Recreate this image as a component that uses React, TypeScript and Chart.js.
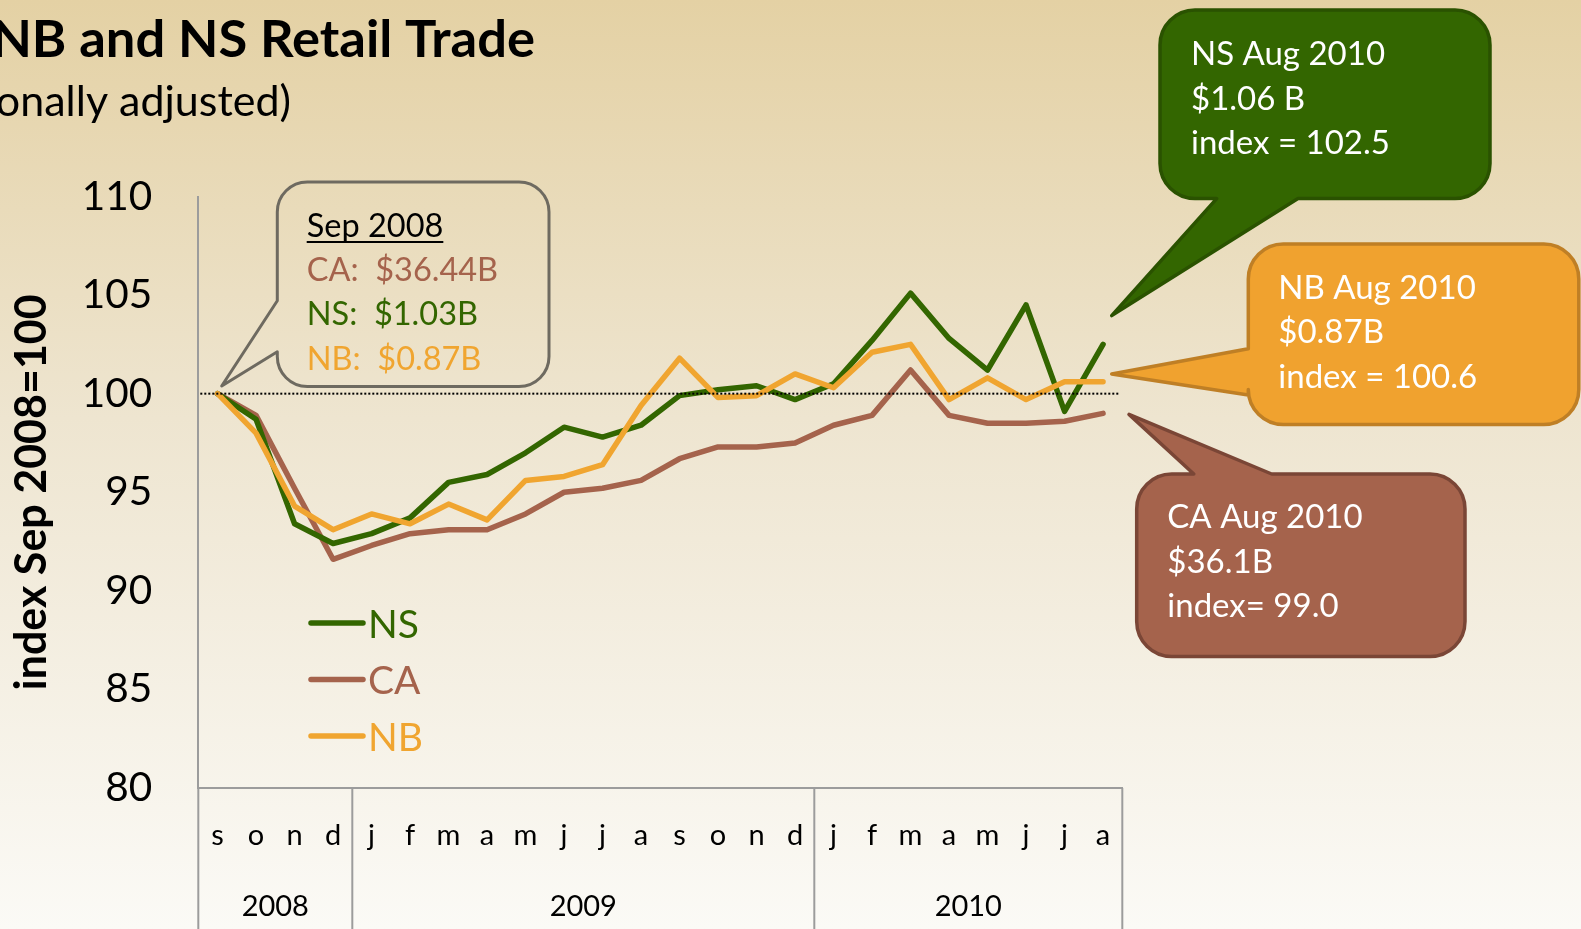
import React, { useEffect, useRef } from 'react';
import { Chart, registerables } from 'chart.js';

Chart.register(...registerables);

// ---------- data ----------
const monthLabels = ['s', 'o', 'n', 'd', 'j', 'f', 'm', 'a', 'm', 'j', 'j', 'a', 's', 'o', 'n', 'd', 'j', 'f', 'm', 'a', 'm', 'j', 'j', 'a'];
const yearLabels = ['2008', '2009', '2010'];
const yearMonthCounts = [4, 12, 8];

const nsValues = [100, 98.7, 93.4, 92.4, 92.9, 93.7, 95.5, 95.9, 97.0, 98.3, 97.8, 98.4, 99.9, 100.2, 100.4, 99.7, 100.5, 102.7, 105.1, 102.8, 101.2, 104.5, 99.1, 102.5];
const caValues = [100, 98.9, 95.2, 91.6, 92.3, 92.9, 93.1, 93.1, 93.9, 95.0, 95.2, 95.6, 96.7, 97.3, 97.3, 97.5, 98.4, 98.9, 101.2, 98.9, 98.5, 98.5, 98.6, 99.0];
const nbValues = [100, 98.0, 94.3, 93.1, 93.9, 93.4, 94.4, 93.6, 95.6, 95.8, 96.4, 99.4, 101.8, 99.8, 99.9, 101.0, 100.3, 102.1, 102.5, 99.7, 100.8, 99.7, 100.6, 100.6];

const yMin = 80;
const yMax = 110;
const yStep = 5;
const baseValue = 100;

const titleText = 'NB and NS Retail Trade';
const subtitleText = '(seasonally adjusted)';
const yAxisTitle = 'index Sep 2008=100';

const startNoteLines = ['Sep 2008', 'CA:  $36.44B', 'NS:  $1.03B', 'NB:  $0.87B'];
const nsNoteLines = ['NS Aug 2010', '$1.06 B', 'index = 102.5'];
const nbNoteLines = ['NB Aug 2010', '$0.87B', 'index = 100.6'];
const caNoteLines = ['CA Aug 2010', '$36.1B', 'index= 99.0'];

// ---------- style ----------
const W = 1581;
const H = 929;
const NS_COLOR = '#336600';
const CA_COLOR = '#a5634c';
const NB_COLOR = '#f0a530';
const AXIS_COLOR = '#9c9c9c';
const FONT = 'Lato, "Open Sans", sans-serif';

type Tail = { side: 'top' | 'bottom' | 'left'; a: number; b: number; tx: number; ty: number };

function calloutPath(ctx: CanvasRenderingContext2D, x: number, y: number, w: number, h: number, r: number, t: Tail) {
  ctx.beginPath();
  ctx.moveTo(x + r, y);
  if (t.side === 'top') { ctx.lineTo(t.a, y); ctx.lineTo(t.tx, t.ty); ctx.lineTo(t.b, y); }
  ctx.lineTo(x + w - r, y);
  ctx.arcTo(x + w, y, x + w, y + r, r);
  ctx.lineTo(x + w, y + h - r);
  ctx.arcTo(x + w, y + h, x + w - r, y + h, r);
  if (t.side === 'bottom') { ctx.lineTo(t.b, y + h); ctx.lineTo(t.tx, t.ty); ctx.lineTo(t.a, y + h); }
  ctx.lineTo(x + r, y + h);
  ctx.arcTo(x, y + h, x, y + h - r, r);
  if (t.side === 'left') { ctx.lineTo(x, t.b); ctx.lineTo(t.tx, t.ty); ctx.lineTo(x, t.a); }
  ctx.lineTo(x, y + r);
  ctx.arcTo(x, y, x + r, y, r);
  ctx.closePath();
}

const decorPlugin = {
  id: 'decor',
  beforeDraw(chart: any) {
    const ctx: CanvasRenderingContext2D = chart.ctx;
    ctx.save();
    const g = ctx.createLinearGradient(0, 0, 0, H);
    g.addColorStop(0, '#e4d1a4');
    g.addColorStop(0.45, '#eee5d0');
    g.addColorStop(1, '#fbfaf6');
    ctx.fillStyle = g;
    ctx.fillRect(0, 0, W, H);

    ctx.fillStyle = '#000';
    ctx.textBaseline = 'alphabetic';
    ctx.textAlign = 'right';
    ctx.font = `bold 52.5px ${FONT}`;
    ctx.fillText(titleText, 535, 57);
    ctx.font = `43px ${FONT}`;
    ctx.fillText(subtitleText, 291, 116);
    ctx.restore();
  },
  afterDraw(chart: any) {
    const ctx: CanvasRenderingContext2D = chart.ctx;
    const xs = chart.scales.x;
    const ys = chart.scales.y;
    const area = chart.chartArea;
    ctx.save();

    // dotted baseline at 100
    const yb = ys.getPixelForValue(baseValue);
    ctx.strokeStyle = '#000';
    ctx.lineWidth = 2;
    ctx.setLineDash([2, 2]);
    ctx.beginPath();
    ctx.moveTo(area.left + 2, yb);
    ctx.lineTo(area.right - 3, yb);
    ctx.stroke();
    ctx.setLineDash([]);

    // category table (year groups)
    const band = xs.getPixelForValue(1) - xs.getPixelForValue(0);
    const bounds: number[] = [xs.getPixelForValue(0) - band / 2];
    let cum = 0;
    yearMonthCounts.forEach((n) => {
      cum += n;
      bounds.push(xs.getPixelForValue(cum - 1) + band / 2);
    });
    ctx.strokeStyle = AXIS_COLOR;
    ctx.lineWidth = 2;
    bounds.forEach((bx) => {
      ctx.beginPath();
      ctx.moveTo(bx, area.bottom);
      ctx.lineTo(bx, H);
      ctx.stroke();
    });
    ctx.fillStyle = '#000';
    ctx.font = `29px ${FONT}`;
    ctx.textAlign = 'center';
    ctx.textBaseline = 'middle';
    yearLabels.forEach((lab, i) => {
      ctx.fillText(lab, (bounds[i] + bounds[i + 1]) / 2, 907);
    });

    // legend
    const legendItems = [
      { label: 'NS', color: NS_COLOR, y: 623 },
      { label: 'CA', color: CA_COLOR, y: 679.5 },
      { label: 'NB', color: NB_COLOR, y: 736 },
    ];
    ctx.lineCap = 'round';
    ctx.lineWidth = 5.5;
    ctx.textAlign = 'left';
    ctx.textBaseline = 'alphabetic';
    ctx.font = `39px ${FONT}`;
    legendItems.forEach((it) => {
      ctx.strokeStyle = it.color;
      ctx.beginPath();
      ctx.moveTo(311, it.y);
      ctx.lineTo(363, it.y);
      ctx.stroke();
      ctx.fillStyle = it.color;
      ctx.fillText(it.label, 368, it.y + 14.5);
    });
    ctx.lineCap = 'butt';

    // Sep 2008 callout
    ctx.lineJoin = 'round';
    calloutPath(ctx, 277.3, 182, 271.7, 204.5, 30, { side: 'left', a: 300.7, b: 351.7, tx: 221.7, ty: 386 });
    ctx.strokeStyle = '#6e6a60';
    ctx.lineWidth = 3;
    ctx.stroke();
    ctx.font = `32.5px ${FONT}`;
    const startColors = ['#000', CA_COLOR, NS_COLOR, NB_COLOR];
    const startBase = [236.7, 280.7, 325, 369.5];
    startNoteLines.forEach((t, i) => {
      ctx.fillStyle = startColors[i];
      ctx.fillText(t, 306.7, startBase[i]);
    });
    const uw = ctx.measureText(startNoteLines[0]).width;
    ctx.strokeStyle = '#000';
    ctx.lineWidth = 2;
    ctx.beginPath();
    ctx.moveTo(306.7, 242);
    ctx.lineTo(306.7 + uw, 242);
    ctx.stroke();

    // end callouts
    const notes = [
      { lines: nsNoteLines, x: 1160, y: 10, w: 330, h: 188.6, tail: { side: 'bottom', a: 1216.7, b: 1298, tx: 1111.7, ty: 315.6 } as Tail, fill: NS_COLOR, stroke: '#2a5200', tx: 1191, base: [65, 109.5, 154] },
      { lines: nbNoteLines, x: 1248.3, y: 244, w: 330.5, h: 180.5, tail: { side: 'left', a: 348.7, b: 395, tx: 1111.7, ty: 374 } as Tail, fill: '#f0a22f', stroke: '#bf7f25', tx: 1278.3, base: [298.5, 343, 387.5] },
      { lines: caNoteLines, x: 1136.7, y: 474, w: 328.3, h: 182.4, tail: { side: 'top', a: 1193.8, b: 1271.7, tx: 1129, ty: 414.4 } as Tail, fill: CA_COLOR, stroke: '#7a4636', tx: 1167.3, base: [528, 572.7, 617] },
    ];
    ctx.font = `33px ${FONT}`;
    notes.forEach((n) => {
      calloutPath(ctx, n.x, n.y, n.w, n.h, 35, n.tail);
      ctx.fillStyle = n.fill;
      ctx.fill();
      ctx.strokeStyle = n.stroke;
      ctx.lineWidth = 3.5;
      ctx.stroke();
      ctx.fillStyle = '#ffffff';
      n.lines.forEach((t, i) => ctx.fillText(t, n.tx, n.base[i]));
    });

    ctx.restore();
  },
};

export default function App() {
  const canvasRef = useRef<HTMLCanvasElement | null>(null);

  useEffect(() => {
    const canvas = canvasRef.current;
    if (!canvas) return;
    const lineDs = (label: string, data: number[], color: string) => ({
      label,
      data,
      borderColor: color,
      backgroundColor: color,
      borderWidth: 5.5,
      pointRadius: 0,
      pointHoverRadius: 0,
      tension: 0,
      fill: false,
      borderCapStyle: 'round' as const,
      borderJoinStyle: 'round' as const,
    });
    const chart = new Chart(canvas, {
      type: 'line',
      data: {
        labels: monthLabels,
        datasets: [
          lineDs('NB', nbValues, NB_COLOR),
          lineDs('NS', nsValues, NS_COLOR),
          lineDs('CA', caValues, CA_COLOR),
        ],
      },
      options: {
        responsive: false,
        animation: false,
        devicePixelRatio: 1,
        layout: { padding: { left: 0, top: 196.5, right: W - 1122.3, bottom: 0 } },
        plugins: {
          legend: { display: false },
          tooltip: { enabled: false },
          title: { display: false },
        },
        scales: {
          x: {
            type: 'category',
            offset: true,
            grid: { display: false, drawTicks: false },
            border: { display: true, color: AXIS_COLOR, width: 2 },
            ticks: {
              color: '#000',
              font: { family: FONT, size: 29 },
              padding: 30,
              maxRotation: 0,
              autoSkip: false,
            },
            afterFit: (scale: any) => { scale.height = H - 788; },
          },
          y: {
            type: 'linear',
            min: yMin,
            max: yMax,
            grid: { display: false, drawTicks: false },
            border: { display: true, color: AXIS_COLOR, width: 2 },
            ticks: {
              stepSize: yStep,
              color: '#000',
              font: { family: FONT, size: 40.5 },
              padding: 46,
            },
            title: {
              display: true,
              text: yAxisTitle,
              color: '#000',
              font: { family: FONT, size: 43, weight: 'bold' },
              padding: { top: 6, bottom: 0 },
            },
            afterFit: (scale: any) => { scale.width = 198.3; },
          },
        },
      },
      plugins: [decorPlugin],
    });
    return () => chart.destroy();
  }, []);

  return (
    <div style={{ position: 'fixed', left: 0, top: 0, width: W, height: H, overflow: 'hidden' }}>
      <canvas ref={canvasRef} width={W} height={H} style={{ display: 'block', width: W, height: H }} />
    </div>
  );
}
